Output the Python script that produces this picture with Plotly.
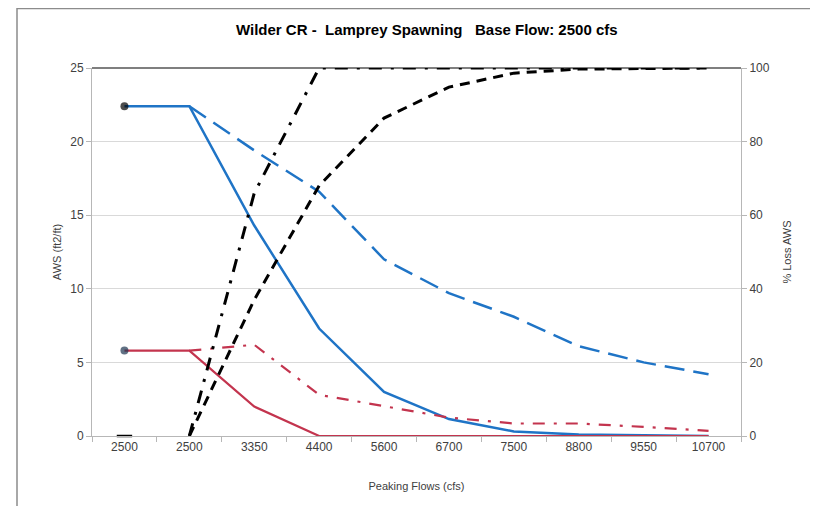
import plotly.graph_objects as go

# ---- data ----
flow_labels = ["2500", "2500", "3350", "4400", "5600", "6700", "7500", "8800", "9550", "10700"]
aws_solid_blue = [22.4, 22.4, 14.3, 7.3, 3.0, 1.15, 0.31, 0.1, 0.05, 0.0]
aws_dash_blue = [None, 22.4, 19.4, 16.6, 12.0, 9.7, 8.1, 6.1, 5.0, 4.2]
aws_solid_red = [5.8, 5.8, 2.0, 0.0, 0.0, 0.0, 0.0, 0.0, 0.0, 0.0]
aws_dashdot_red = [None, 5.8, 6.2, 2.8, 2.0, 1.25, 0.85, 0.85, 0.62, 0.35]
loss_dash_black = [0, 0, 37, 68, 86.4, 94.8, 98.6, 99.7, 99.9, 100]
loss_dashdot_black = [0, 0, 66, 100, 100, 100, 100, 100, 100, 100]

left_ticks = [0, 5, 10, 15, 20, 25]
right_ticks = [0, 20, 40, 60, 80, 100]

title_text = "Wilder CR -  Lamprey Spawning   Base Flow: 2500 cfs"

BLUE = "#1f74c6"
RED = "#c3344e"
GRID = "#d9d9d9"
AXIS = "#b7b7b7"
TXT = "#404040"
FONT = "Liberation Sans Narrow, Arial Narrow, Liberation Sans, Arial, sans-serif"

xs = list(range(len(flow_labels)))

fig = go.Figure()

def pts(vals):
    x = [i for i, v in zip(xs, vals) if v is not None]
    y = [v for v in vals if v is not None]
    return x, y

# black loss curves (right axis)
bx, by = pts(loss_dash_black)
fig.add_trace(go.Scatter(x=bx[1:], y=by[1:], yaxis="y2", mode="lines",
                         line=dict(color="black", width=3, dash="10px,7px"), showlegend=False))
bx, by = pts(loss_dashdot_black)
fig.add_trace(go.Scatter(x=bx[1:], y=by[1:], yaxis="y2", mode="lines",
                         line=dict(color="black", width=3, dash="13px,9px,3px,9px"), showlegend=False))
fig.add_trace(go.Scatter(x=[bx[0]], y=[by[0]], yaxis="y2", mode="markers",
                         marker=dict(symbol="line-ew", size=11, line=dict(color="black", width=2.5)),
                         showlegend=False, cliponaxis=False))

# blue AWS
x, y = pts(aws_dash_blue)
fig.add_trace(go.Scatter(x=x, y=y, mode="lines",
                         line=dict(color=BLUE, width=2.5, dash="20px,9px"), showlegend=False))
x, y = pts(aws_solid_blue)
fig.add_trace(go.Scatter(x=x, y=y, mode="lines+markers",
                         line=dict(color=BLUE, width=2.5),
                         marker=dict(size=[8] + [0] * (len(x) - 1), color="black",
                                     line=dict(width=0)),
                         showlegend=False))
# red AWS
x, y = pts(aws_dashdot_red)
fig.add_trace(go.Scatter(x=x, y=y, mode="lines",
                         line=dict(color=RED, width=2.2, dash="12px,9px,3px,9px"), showlegend=False))
x, y = pts(aws_solid_red)
fig.add_trace(go.Scatter(x=x, y=y, mode="lines+markers",
                         line=dict(color=RED, width=2.2),
                         marker=dict(size=[8] + [0] * (len(x) - 1), color="#1c3550",
                                     line=dict(width=0)),
                         showlegend=False))

W, H = 810, 498
ML, MR, MT, MB = 84, 77, 60, 70
PH = H - MT - MB

fig.update_layout(
    width=W, height=H,
    margin=dict(l=ML, r=MR, t=MT, b=MB),
    paper_bgcolor="white", plot_bgcolor="white",
    font=dict(family=FONT, size=12, color=TXT),
    title=dict(text="<b>" + title_text + "</b>", x=0.517, xanchor="center",
               y=1 - 22 / H, yanchor="middle", yref="container",
               font=dict(family=FONT, size=15, color="black")),
    xaxis=dict(range=[-0.5, len(xs) - 0.5], tickvals=xs, ticktext=flow_labels,
               showgrid=False, zeroline=False, showline=True, linecolor=AXIS, linewidth=1,
               ticks="", tickfont=dict(size=12, color=TXT), automargin=False,
               minor=dict(ticks="outside", tick0=-0.5, dtick=1, ticklen=5, tickcolor=AXIS, showgrid=False),
               title=dict(text="Peaking Flows (cfs)", font=dict(size=11, color=TXT), standoff=28)),
    yaxis=dict(range=[0, 25], tickvals=left_ticks, showgrid=True, gridcolor=GRID, gridwidth=1,
               zeroline=False, showline=True, linecolor=AXIS, ticks="outside", ticklen=5,
               tickcolor=AXIS, tickfont=dict(size=12, color=TXT), automargin=False,
               title=dict(text="AWS (ft2/ft)", font=dict(size=11, color=TXT), standoff=6)),
    yaxis2=dict(range=[0, 100], tickvals=right_ticks, overlaying="y", side="right",
                showgrid=False, zeroline=False, showline=True, linecolor=AXIS, automargin=False,
                ticks="outside", ticklen=5, tickcolor=AXIS, tickfont=dict(size=12, color=TXT),
                title=dict(text="% Loss AWS", font=dict(size=11, color=TXT), standoff=14)),
    shapes=[
        dict(type="line", xref="paper", yref="paper", x0=0, x1=1, y0=1, y1=1,
             line=dict(color="#7f7f7f", width=2), layer="below"),
        dict(type="rect", xref="paper", yref="paper",
             x0=(9 - ML) / (W - ML - MR), x1=1.3, y0=-0.3, y1=(H - MB - 0.5) / PH,
             line=dict(color="#8c8c8c", width=1.5)),
    ],
)

fig.write_html("out.html")
